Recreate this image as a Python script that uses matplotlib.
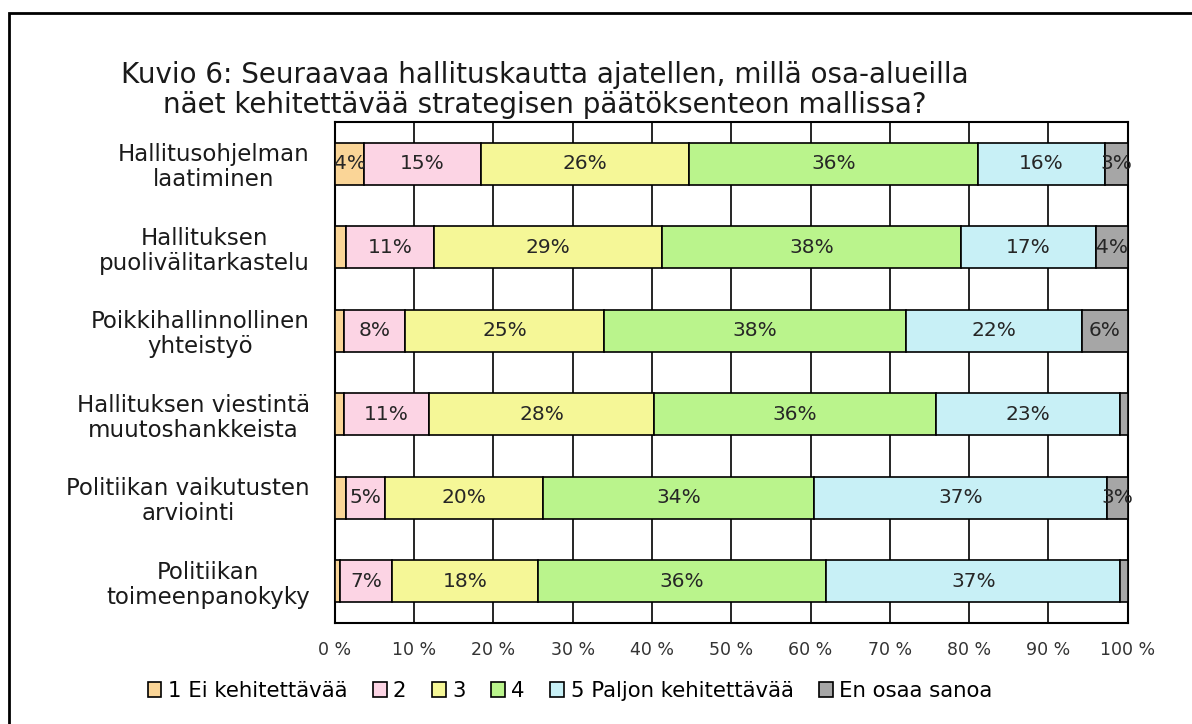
import matplotlib.pyplot as plt
import numpy as np
from matplotlib.patches import Rectangle

plt.rcParams['font.family'] = ['DejaVu Sans']

# Data (percent shares per answer)
categories = [
    'Hallitusohjelman\nlaatiminen',
    'Hallituksen\npuolivälitarkastelu',
    'Poikkihallinnollinen\nyhteistyö',
    'Hallituksen viestintä\nmuutoshankkeista',
    'Politiikan vaikutusten\narviointi',
    'Politiikan\ntoimeenpanokyky',
]
series_names = ['1 Ei kehitettävää', '2', '3', '4', '5 Paljon kehitettävää', 'En osaa sanoa']
s1 = [3.7, 1.4, 1.1, 1.1, 1.4, 0.6]
s2 = [14.7, 11.1, 7.7, 10.8, 4.9, 6.6]
s3 = [26.3, 28.7, 25.2, 28.3, 20.0, 18.4]
s4 = [36.4, 37.8, 38.0, 35.6, 34.1, 36.4]
s5 = [16.0, 17.0, 22.2, 23.3, 37.0, 37.1]
s6 = [2.9, 4.0, 5.8, 0.9, 2.6, 0.9]
colors = ['#FAD597', '#FCD4E4', '#F5F797', '#BAF48C', '#C8F0F6', '#A6A6A6']
xticks = np.arange(0, 101, 10)

fig = plt.figure(figsize=(11.92, 7.24), dpi=100)
ax = fig.add_axes([0.281, 0.1395, 0.665, 0.692])

# outer frame of the figure (clipped on right and bottom)
fig.patches.append(Rectangle((9 / 1192, -0.05), 1.2, 1 - 13 / 724 + 0.05,
                             transform=fig.transFigure, fill=False,
                             edgecolor='black', linewidth=2))

y = np.arange(len(categories))
left = np.zeros(len(categories))
for vals, name, col in zip([s1, s2, s3, s4, s5, s6], series_names, colors):
    vals = np.array(vals)
    ax.barh(y, vals, left=left, height=0.5, color=col, edgecolor='black',
            linewidth=1.2, label=name, zorder=3)
    for yi, (l, v) in enumerate(zip(left, vals)):
        if v >= 2:
            ax.text(l + v / 2, yi, f'{v:.0f}%', ha='center', va='center',
                    fontsize=14.5, color='#262626', zorder=4)
    left += vals

ax.set_xlim(0, 100)
ax.set_ylim(5.5, -0.5)
ax.set_xticks(xticks)
ax.set_xticklabels([f'{t} %' for t in xticks], fontsize=12.5, color='#333333')
ax.set_yticks(y)
ax.set_yticklabels(categories, fontsize=16.5, multialignment='center',
                   color='#1a1a1a', linespacing=1.1)
ax.tick_params(axis='both', length=0)
ax.tick_params(axis='y', pad=18)
ax.tick_params(axis='x', pad=13)
ax.xaxis.grid(True, color='black', linewidth=1.2, zorder=0)
for sp in ax.spines.values():
    sp.set_linewidth(1.5)
    sp.set_color('black')

fig.text(545 / 1192, 1 - 90 / 724,
         'Kuvio 6: Seuraavaa hallituskautta ajatellen, millä osa-alueilla\n'
         'näet kehitettävää strategisen päätöksenteon mallissa?',
         ha='center', va='center', fontsize=20, linespacing=1.1,
         color='#1a1a1a')

fig.legend(loc='center', bbox_to_anchor=(570 / 1192, 1 - 691 / 724), ncol=6,
           frameon=False, fontsize=15.3, handlelength=0.65, handleheight=0.65,
           handletextpad=0.3, columnspacing=1.2)

fig.savefig('out.png', dpi=100)
